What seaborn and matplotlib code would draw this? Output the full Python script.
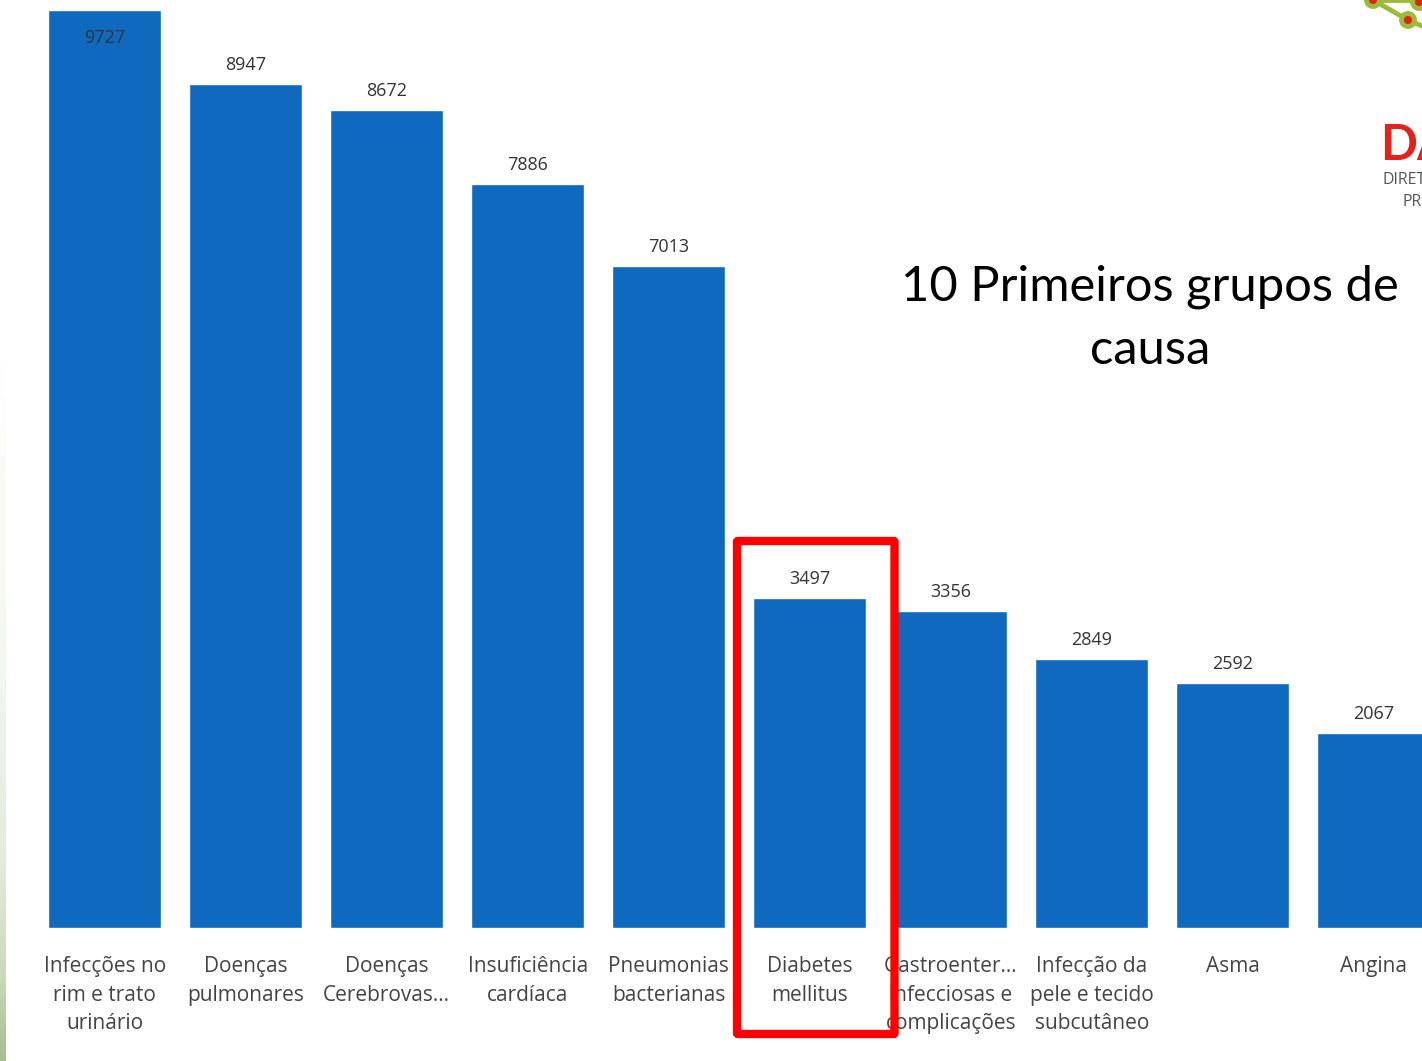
import numpy as np
import matplotlib
matplotlib.use("Agg")
import matplotlib.pyplot as plt
from matplotlib.colors import LinearSegmentedColormap
from matplotlib.patches import FancyBboxPatch, Circle
import pandas as pd
import seaborn as sns

categories = ["Infecções no\nrim e trato\nurinário", "Doenças\npulmonares", "Doenças\nCerebrovas...",
              "Insuficiência\ncardíaca", "Pneumonias\nbacterianas", "Diabetes\nmellitus",
              "Gastroenter...\ninfecciosas e\ncomplicações", "Infecção da\npele e tecido\nsubcutâneo",
              "Asma", "Angina"]
values = [9727, 8947, 8672, 7886, 7013, 3497, 3356, 2849, 2592, 2067]
title_text = "10 Primeiros grupos de\ncausa"

W, H = 1422, 1061
BASE_Y, TOP_Y = 928, 10.2
C0, STEP = 104.7, 141
sns.set_theme(style="white")
plt.rcParams["font.family"] = ["Open Sans", "DejaVu Sans"]

fig = plt.figure(figsize=(W / 100, H / 100), dpi=100)
ax = fig.add_axes([0, (H - BASE_Y) / H, 1, BASE_Y / H])
df = pd.DataFrame({"cat": categories, "val": values})
sns.barplot(data=df, x="cat", y="val", color="#0F69BE", saturation=1, width=112.6 / STEP, ax=ax)
ax.set_xlim(-C0 / STEP, (W - C0) / STEP)
ax.set_ylim(0, values[0] * BASE_Y / (BASE_Y - TOP_Y))
ax.set_xlabel(""); ax.set_ylabel("")
ax.set_yticks([])
sns.despine(ax=ax, left=True, bottom=True, top=True, right=True)
ax.tick_params(axis="x", length=0, pad=20)
for lab in ax.get_xticklabels():
    lab.set_fontsize(15)
    lab.set_color("#444444")
    lab.set_linespacing(1.49)
    lab.set_verticalalignment("top")

for i, v in enumerate(values):
    off = -28 if i == 0 else 19
    ax.annotate(str(v), (i, v), xytext=(0, off), textcoords="offset pixels",
                ha="center", va="center", fontsize=13, color="#333333")

ov = fig.add_axes([0, 0, 1, 1], facecolor="none", zorder=5)
ov.set_xlim(0, W); ov.set_ylim(H, 0); ov.axis("off")

# highlight box
ov.add_patch(FancyBboxPatch((737, 541), 157.5, 493, boxstyle="round,pad=0,rounding_size=1",
                            fc="none", ec="#FF0000", lw=6))
# title
ov.text(1150, 318.5, title_text, ha="center", va="center", fontsize=35.2, color="black",
        family="Lato", linespacing=1.52)

# logo fragment
green = "#9DBB3A"
ov.plot([1373, 1408], [0, 20], color=green, lw=3.5, solid_capstyle="round", zorder=2)
ov.plot([1373, 1422], [0, 0], color=green, lw=3.5, zorder=2)
ov.plot([1408, 1422], [20, 26], color=green, lw=3.5, zorder=2)
for (x, y) in [(1373, 0), (1408, 20), (1419, 2)]:
    ov.add_patch(Circle((x, y), 6.5, fc="#E2231A", ec=green, lw=3.5, zorder=3))
ov.text(1380, 160, "DA", fontsize=35, fontweight="bold", color="#E2231A", family="Lato",
        ha="left", va="baseline")
ov.text(1383, 180, "DIRET", fontsize=11.5, color="#555555", ha="left", va="center")
ov.text(1403, 202, "PR", fontsize=11.5, color="#555555", ha="left", va="center")

# left gradient strip
cmap = LinearSegmentedColormap.from_list(
    "g", [(0, "#FFFFFF"), (0.45, "#F4F6F1"), (0.72, "#E4EADD"), (0.88, "#CBD8BC"), (1, "#A5BE8E")])
strip = fig.add_axes([0, 0, 6 / W, 700 / H], zorder=6)
strip.imshow(np.linspace(0, 1, 256).reshape(-1, 1), cmap=cmap, aspect="auto", origin="upper")
strip.axis("off")

fig.savefig("out.png", dpi=100)
